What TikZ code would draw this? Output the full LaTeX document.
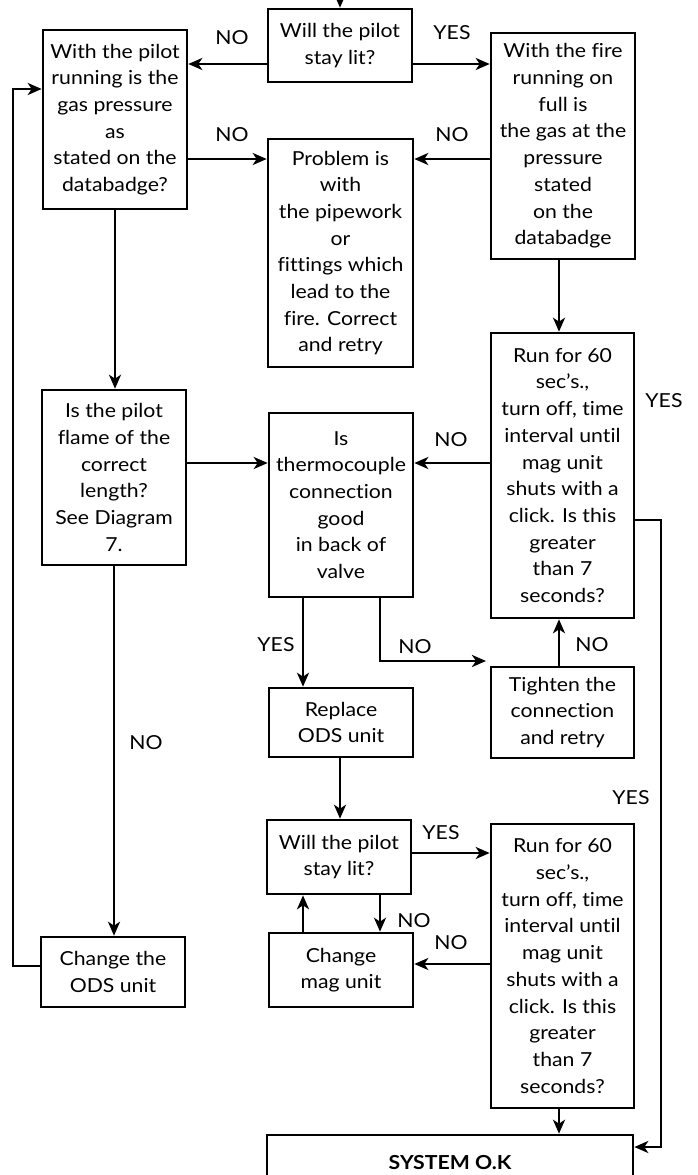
\documentclass[tikz,border=0pt]{standalone}
\usepackage{fontspec}
\setmainfont[FakeStretch=1.1,Ligatures=NoCommon]{Lato}
\usetikzlibrary{arrows.meta}
\begin{document}
\begin{tikzpicture}[x=1pt,y=-1pt,
  box/.style={draw,line width=2.6pt,rectangle,inner sep=0pt,align=center,
    font=\fontsize{19.3}{26.7}\selectfont},
  arr/.style={line width=2.6pt,-{Stealth[length=14pt,width=12pt,inset=4pt]}},
  lbl/.style={font=\fontsize{19.3}{22}\selectfont,inner sep=0pt}]
\useasboundingbox (0,0) rectangle (697,1175);
% nodes
\node[box,minimum width=144,minimum height=73] (will1) at (340,45.5) {Will the pilot\\stay lit?};
\node[box,minimum width=144,minimum height=179] (leftq) at (115,119.5) {With the pilot\\running is the\\gas pressure\\as\\stated on the\\databadge?};
\node[box,minimum width=144,minimum height=226] (fireq) at (563,146) {With the fire\\running on\\full is\\the gas at the\\pressure\\stated\\on the\\databadge};
\node[box,minimum width=145,minimum height=228] (problem) at (340.5,253) {Problem is\\with\\the pipework\\or\\fittings which\\lead to the\\fire. Correct\\and retry};
\node[box,minimum width=144,minimum height=175] (flame) at (114,477.5) {Is the pilot\\flame of the\\correct\\length?\\See Diagram\\7.};
\node[box,minimum width=144,minimum height=184] (thermo) at (341,505) {Is\\thermocouple\\connection\\good\\in back of\\valve};
\node[box,minimum width=143,minimum height=285] (run1) at (562.5,475.5) {Run for 60\\sec’s.,\\turn off, time\\interval until\\mag unit\\shuts with a\\click. Is this\\greater\\ than 7\\seconds?};
\node[box,minimum width=144,minimum height=69] (replace) at (341,722.5) {Replace\\ODS unit};
\node[box,minimum width=143,minimum height=91] (tighten) at (562.5,712.5) {Tighten the\\connection\\and retry};
\node[box,minimum width=144,minimum height=74] (will2) at (339,857) {Will the pilot\\stay lit?};
\node[box,minimum width=143,minimum height=284] (run2) at (562.5,966) {Run for 60\\sec’s.,\\turn off, time\\interval until\\mag unit\\shuts with a\\click. Is this\\greater\\ than 7\\seconds?};
\node[box,minimum width=144,minimum height=70] (changeods) at (113,972) {Change the\\ODS unit};
\node[box,minimum width=144,minimum height=74] (changemag) at (341,970) {Change\\mag unit};
\node[box,minimum width=366,minimum height=55] (system) at (450,1162.5) {\bfseries SYSTEM O.K};
% free ends
\coordinate (top) at (340,-12);
\coordinate (tnoend) at (486,661);
\coordinate (tnocorner) at (380,661);
% connectors
\draw[arr] (top) -- (will1.north);
\draw[arr] ([yshift=-18.5pt]will1.west) -- ([yshift=55.5pt]leftq.east);
\draw[arr] ([yshift=-18.5pt]will1.east) -- ([yshift=82pt]fireq.west);
\draw[arr] ([yshift=-39.5pt]leftq.east) -- ([yshift=94pt]problem.west);
\draw[arr] ([yshift=-13pt]fireq.west) -- ([yshift=94pt]problem.east);
\draw[arr] ([xshift=-4pt]fireq.south) -- ([xshift=-3.5pt]run1.north);
\draw[arr] (leftq.south) -- ([xshift=1pt]flame.north);
\draw[arr] ([yshift=14.5pt]flame.east) -- ([yshift=42pt]thermo.west);
\draw[arr] ([yshift=12.5pt]run1.west) -- ([yshift=42pt]thermo.east);
\draw[arr] ([xshift=-38pt]thermo.south) -- ([xshift=-38pt]replace.north);
\draw[arr] ([xshift=39pt]thermo.south) -- (tnocorner) -- (tnoend);
\draw[arr] ([xshift=-3.5pt]tighten.north) -- ([xshift=-3.5pt]run1.south);
\draw[arr] ([yshift=-44.5pt]run1.east) -| (661,1147) -- ([yshift=15.5pt]system.east);
\draw[arr] ([xshift=-1pt]replace.south) -- ([xshift=1pt]will2.north);
\draw[arr] ([yshift=4pt]will2.east) -- ([yshift=113pt]run2.west);
\draw[arr] ([xshift=41pt]will2.south) -- ([xshift=39pt]changemag.north);
\draw[arr] ([xshift=-38pt]changemag.north) -- ([xshift=-36pt]will2.south);
\draw[arr] ([yshift=2pt]run2.west) -- ([yshift=6pt]changemag.east);
\draw[arr] ([xshift=-3.5pt]run2.south) -- ([xshift=109pt]system.north);
\draw[arr] (flame.south) -- ([xshift=1pt]changeods.north);
\draw[arr] ([yshift=6pt]changeods.west) -| (13,89) -- ([yshift=30.5pt]leftq.west);
% labels
\node[lbl] (l1) at (232,38) {NO};
\node[lbl] (l2) at (452,33) {YES};
\node[lbl] (l3) at (232,135) {NO};
\node[lbl] (l4) at (452,135) {NO};
\node[lbl] (l5) at (451,440) {NO};
\node[lbl] (l6) at (664,401) {YES};
\node[lbl] (l7) at (276,645) {YES};
\node[lbl] (l8) at (415,647) {NO};
\node[lbl] (l9) at (592,645) {NO};
\node[lbl] (l10) at (146,743) {NO};
\node[lbl] (l11) at (631,798) {YES};
\node[lbl] (l12) at (441,833) {YES};
\node[lbl] (l13) at (414,921) {NO};
\node[lbl] (l14) at (451,943) {NO};
\end{tikzpicture}
\end{document}
